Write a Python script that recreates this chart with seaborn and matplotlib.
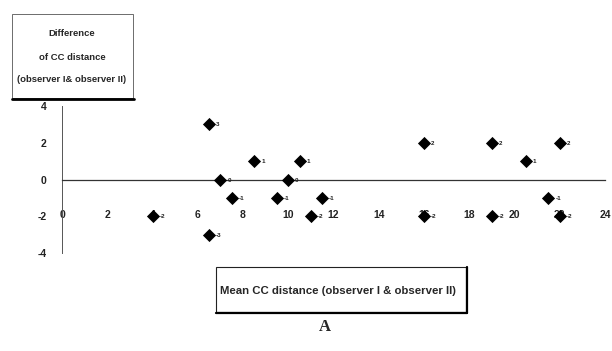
import matplotlib
matplotlib.use("Agg")
import matplotlib.pyplot as plt
from matplotlib.patches import Rectangle
import seaborn as sns
import pandas as pd

mean_cc = [4, 6.5, 6.5, 7, 7.5, 8.5, 9.5, 10, 10.5, 11, 11.5, 16, 16, 19, 19, 20.5, 21.5, 22, 22]
diff_cc = [-2, 3, -3, 0, -1, 1, -1, 0, 1, -2, -1, 2, -2, 2, -2, 1, -1, 2, -2]
x_ticks = [0, 2, 4, 6, 8, 10, 12, 14, 16, 18, 20, 22, 24]
y_ticks = [-4, -2, 0, 2, 4]

df = pd.DataFrame({"mean": mean_cc, "diff": diff_cc})

sns.set_style("white")
plt.rcParams["font.family"] = ["Liberation Sans", "DejaVu Sans"]
plt.rcParams["axes.unicode_minus"] = False

fig = plt.figure(figsize=(6.12, 3.51), dpi=100)
W, H = 612, 351
ax = fig.add_axes([62 / W, 1 - 253 / H, (605 - 62) / W, (253 - 106) / H])

sns.scatterplot(data=df, x="mean", y="diff", marker="D", s=45, color="black",
                edgecolor="black", linewidth=0, ax=ax, zorder=3, clip_on=False)

for xv, yv in zip(mean_cc, diff_cc):
    ax.annotate(str(yv), (xv, yv), xytext=(5, -1.5), textcoords="offset points",
                fontsize=4.5, fontweight="bold", color="#222222")

ax.set_xlim(0, 24)
ax.set_ylim(-4, 4)
ax.set_xticks(x_ticks)
ax.set_yticks(y_ticks)
ax.set_xlabel("")
ax.set_ylabel("")

for s in ["top", "right"]:
    ax.spines[s].set_visible(False)
ax.spines["bottom"].set_position(("data", 0))
ax.spines["left"].set_position(("data", 0))
ax.spines["bottom"].set_linewidth(0.9)
ax.spines["left"].set_linewidth(0.7)
ax.spines["bottom"].set_color("#333333")
ax.spines["left"].set_color("#555555")

ax.tick_params(axis="x", direction="inout", length=4, width=0.6, pad=20,
               labelsize=7.5, colors="#222222")
ax.tick_params(axis="y", direction="out", length=3, width=0.6, pad=8,
               labelsize=7.5, colors="#222222")
for lbl in ax.get_xticklabels() + ax.get_yticklabels():
    lbl.set_fontweight("bold")

# y-label box
def px(x, y):
    return x / W, 1 - y / H

x0, y0 = px(12, 98)
fig.add_artist(Rectangle((x0, y0), (133 - 12) / W, (98 - 14) / H,
                         transform=fig.transFigure, fill=False, lw=0.6, ec="#555555"))
fig.add_artist(plt.Line2D([12 / W, 134 / W], [1 - 98.5 / H] * 2,
                          transform=fig.transFigure, lw=2, color="black"))
for text, yy in [("Difference", 33), ("of CC distance", 57), ("(observer I& observer II)", 80)]:
    fig.text(72 / W, 1 - yy / H, text, ha="center", va="center",
             fontsize=6.8, fontweight="bold")

# x-label box
x1, y1 = px(216, 312)
fig.add_artist(Rectangle((x1, y1), (466 - 216) / W, (312 - 267) / H,
                         transform=fig.transFigure, fill=False, lw=0.8, ec="#222222"))
fig.add_artist(plt.Line2D([216 / W, 467 / W], [1 - 312.5 / H] * 2,
                          transform=fig.transFigure, lw=1.6, color="black"))
fig.add_artist(plt.Line2D([466.5 / W, 466.5 / W], [1 - 267 / H, 1 - 313 / H],
                          transform=fig.transFigure, lw=1.6, color="black"))
fig.text(220 / W, 1 - 291 / H, "Mean CC distance (observer I & observer II)",
         ha="left", va="center", fontsize=8.2, fontweight="bold")

fig.text(325 / W, 1 - 327 / H, "A", ha="center", va="center", fontsize=12,
         fontweight="bold", family=["Liberation Serif", "DejaVu Serif"])

fig.savefig("out.png", dpi=100)
